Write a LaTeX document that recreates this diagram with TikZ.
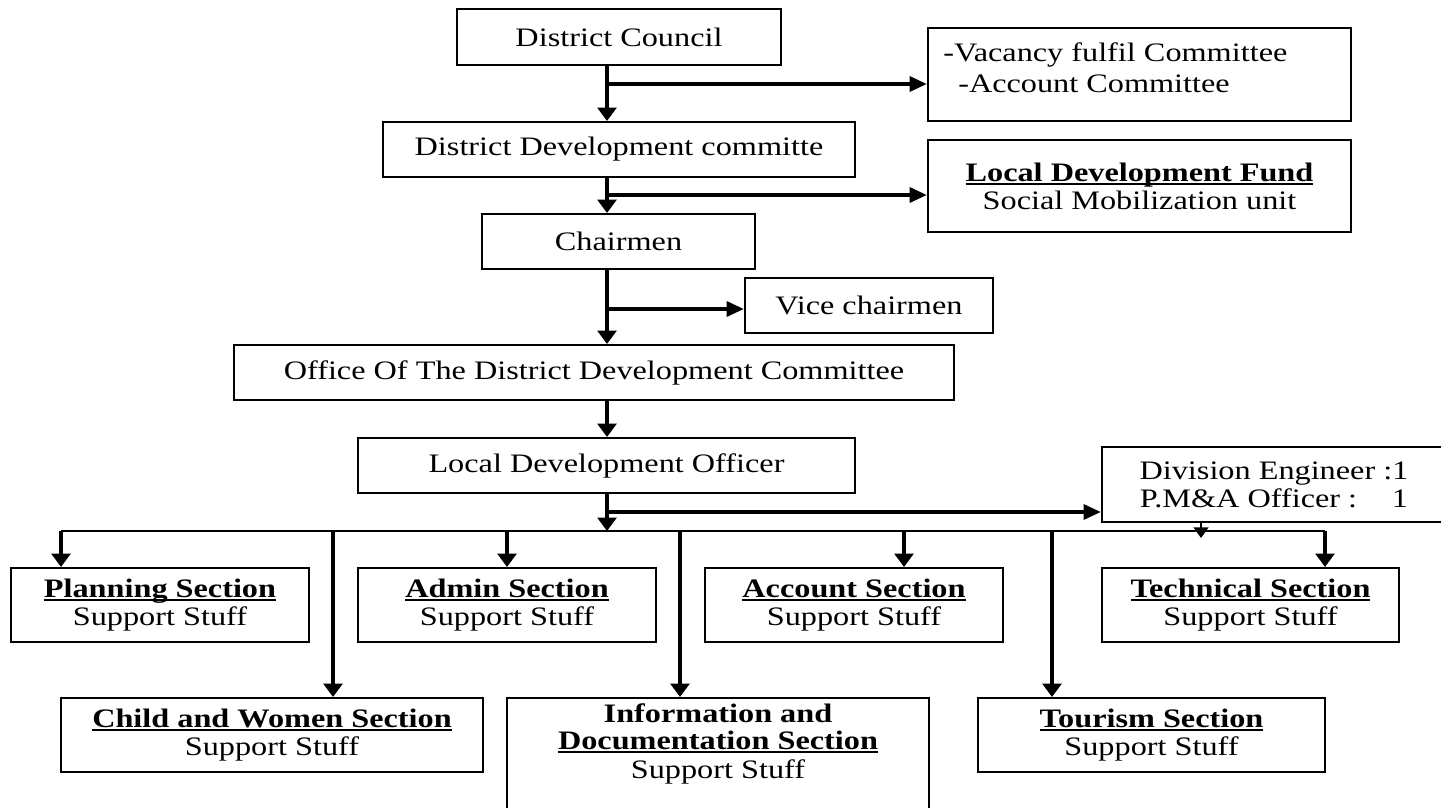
\documentclass[tikz,border=0pt]{standalone}
\usepackage{fontspec}
\setmainfont{Liberation Serif}[FakeStretch=1.21]
\usetikzlibrary{arrows.meta}
\newcommand\ubf[1]{\setbox0\hbox{\bfseries #1}\rlap{\rule[-3pt]{\wd0}{1.5pt}}\box0}
\newcommand\bx[6]{\node[box, minimum width={(#4-#2)*0.75pt}, minimum height={(#5-#3)*0.75pt}] (#1) at ({(#2+#4)/2},{(#3+#5)/2}) {#6};}
\begin{document}
\begin{tikzpicture}[x=0.75pt,y=-0.75pt,
  txt/.style={font=\fontsize{20}{21}\selectfont, inner sep=0pt, align=center},
  box/.style={txt, draw, line width=1.5pt},
  varr/.style={line width=3pt, -{Triangle[length=10pt,width=14pt]}},
  harr/.style={line width=3pt, -{Triangle[length=13pt,width=11pt]}},
  drop/.style={line width=2.6pt, -{Triangle[length=10pt,width=14pt]}},
  busline/.style={line width=2pt},
  small/.style={line width=2pt, -{Triangle[length=8pt,width=11pt]}},
]
\useasboundingbox (0,0) rectangle (1441,807);
\fill[white] (0,0) rectangle (1441,807);

\bx{dc}{457}{9}{781}{65}{District Council}
\bx{vac}{928}{28}{1351}{121}{}
\node[txt, anchor=west] (vac1) at (943,55) {-Vacancy fulfil Committee};
\node[txt, anchor=west] (vac2) at (958,84) {-Account Committee};
\bx{ddc}{383}{122}{855}{177}{District Development committe}
\bx{ldf}{928}{140}{1351}{232}{\ubf{Local Development Fund}\\Social Mobilization unit}
\bx{chair}{482}{214}{755}{269}{Chairmen}
\bx{vice}{745}{278}{993}{333}{Vice chairmen}
\bx{office}{234}{345}{954}{400}{Office Of The District Development Committee}
\bx{ldo}{358}{438}{855}{493}{Local Development Officer}
\bx{div}{1102}{447}{1446}{522}{Division Engineer :1\\P.M\&A Officer :\quad\ 1}

\bx{plan}{11}{568}{309}{642}{\ubf{Planning Section}\\Support Stuff}
\bx{admin}{358}{568}{656}{642}{\ubf{Admin Section}\\Support Stuff}
\bx{acc}{705}{568}{1003}{642}{\ubf{Account Section}\\Support Stuff}
\bx{tech}{1102}{568}{1399}{642}{\ubf{Technical Section}\\Support Stuff}
\bx{child}{61}{698}{483}{772}{\ubf{Child and Women Section}\\Support Stuff}
\bx{info}{507}{698}{929}{840}{}
\node[txt] (infotxt) at (718,744) {\textbf{Information and}\\[-1pt]\ubf{Documentation Section}\\[1pt]Support Stuff};
\bx{tour}{978}{698}{1325}{772}{\ubf{Tourism Section}\\Support Stuff}

% spine
\coordinate (spine) at (607,0);
\coordinate (b1) at (607,84);
\coordinate (b2) at (607,195);
\coordinate (b3) at (607,309);
\coordinate (b4) at (607,512);
\draw[varr] (dc.south -| spine) -- (ddc.north -| spine);
\draw[harr] (b1) -- (b1 -| vac.west);
\draw[varr] (ddc.south -| spine) -- (chair.north -| spine);
\draw[harr] (b2) -- (b2 -| ldf.west);
\draw[varr] (chair.south -| spine) -- (office.north -| spine);
\draw[harr] (b3) -- (b3 -| vice.west);
\draw[varr] (office.south -| spine) -- (ldo.north -| spine);

% bus
\coordinate (busL) at (61,531);
\coordinate (busR) at (1325,531);
\draw[varr] (ldo.south -| spine) -- (spine |- busL);
\draw[harr] (b4) -- (b4 -| div.west);
\draw[busline] (busL) -- (busR);
\coordinate (d1) at (61,531);
\coordinate (d2) at (333,531);
\coordinate (d3) at (507,531);
\coordinate (d4) at (680,531);
\coordinate (d5) at (904,531);
\coordinate (d6) at (1052,531);
\coordinate (d7) at (1325,531);
\draw[drop] (d1) -- (d1 |- plan.north);
\draw[drop] (d2) -- (d2 |- child.north);
\draw[drop] (d3) -- (d3 |- admin.north);
\draw[drop] (d4) -- (d4 |- info.north);
\draw[drop] (d5) -- (d5 |- acc.north);
\draw[drop] (d6) -- (d6 |- tour.north);
\draw[drop] (d7) -- (d7 |- tech.north);
\coordinate (dvend) at (1201,538);
\draw[small] (div.south -| dvend) -- (dvend);
\end{tikzpicture}
\end{document}
